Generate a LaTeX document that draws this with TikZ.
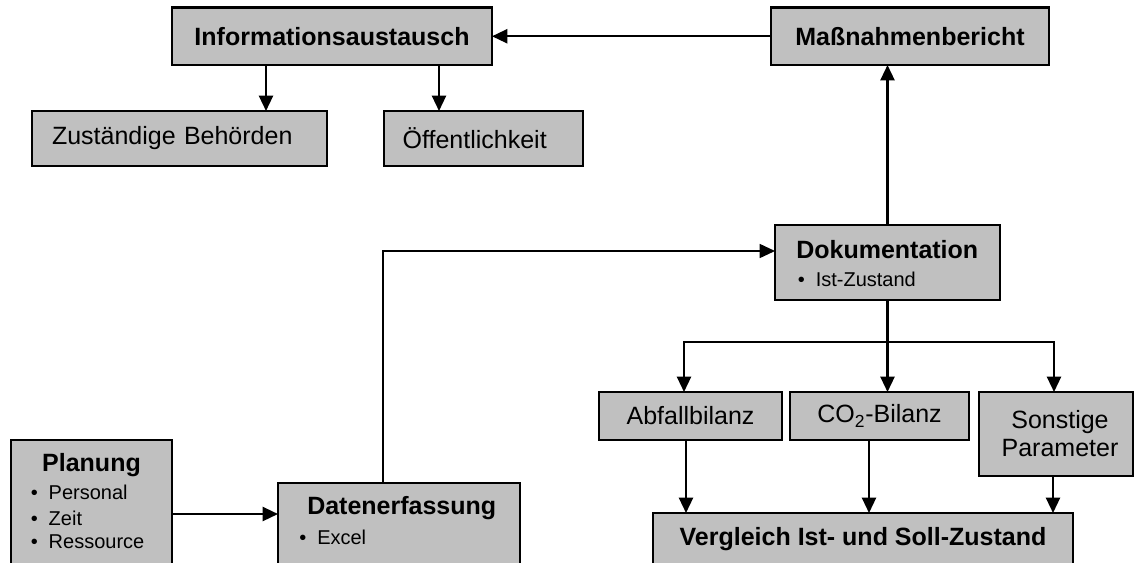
\documentclass[tikz,border=0pt]{standalone}
\usepackage{fontspec}
\setmainfont{Liberation Sans}
\usetikzlibrary{arrows.meta}
\definecolor{boxgray}{HTML}{C0C0C0}
\tikzset{
  box/.style={draw=black, fill=boxgray, line width=1.9pt, inner sep=0pt, outer sep=0pt},
  ttl/.style={font=\fontsize{18.75}{22}\selectfont\bfseries, inner sep=0pt},
  reg/.style={font=\fontsize{18.75}{21}\selectfont},
  bul/.style={font=\fontsize{15}{18}\selectfont, inner sep=0pt, anchor=west},
  arr/.style={line width=1.7pt, -{Triangle[length=11.5pt,width=10.5pt]}},
}
\newcommand{\bull}{\makebox[13.5pt][l]{\textbullet}}
\begin{document}
\begin{tikzpicture}[x=0.75pt,y=-0.75pt]
\useasboundingbox (0,0) rectangle (1134,562);

% boxes
\node[box, minimum width=240pt, minimum height=43.1pt, ttl] (info) at (332,36.25) {Informationsaustausch};
\node[box, minimum width=208.5pt, minimum height=43.1pt, ttl] (mass) at (910,36.25) {Maßnahmenbericht};
\node[box, minimum width=221.25pt, minimum height=41.25pt, reg, text width=221.25pt, align=left] (zust) at (179.5,138.5) {\hspace*{15pt}Zuständige Behörden};
\node[box, minimum width=149.25pt, minimum height=41.25pt, reg, text width=149.25pt, align=left] (oeff) at (483.5,138.5) {\hspace*{14pt}Öffentlichkeit};
\node[box, minimum width=168.75pt, minimum height=56.25pt] (doku) at (887.5,262.5) {};
\node[box, minimum width=137.25pt, minimum height=36pt, reg] (abf) at (690.5,416) {Abfallbilanz};
\node[box, minimum width=134.25pt, minimum height=36pt, reg] (co2) at (879.5,416) {CO\textsubscript{2}-Bilanz};
\node[box, minimum width=115.5pt, minimum height=63pt, reg, align=center] (son) at (1056,434) {\hspace*{6pt}Sonstige\\\hspace*{6pt}Parameter};
\node[box, minimum width=315pt, minimum height=42.75pt] (verg) at (863,541.5) {};
\node[box, minimum width=120.75pt, minimum height=101.25pt] (plan) at (91.5,507.5) {};
\node[box, minimum width=181.5pt, minimum height=69pt] (daten) at (399,529) {};

% texts inside boxes
\node[ttl] (vergT) at (863,539) {Vergleich Ist- und Soll-Zustand};
\node[ttl] (planT) at (91.5,465) {Planung};
\node[bul] (pl1) at (30.5,492) {\bull Personal};
\node[bul] (pl2) at (30.5,518) {\bull Zeit};
\node[bul] (pl3) at (30.5,542) {\bull Ressource};
\node[ttl, anchor=west] (datT) at (307,508) {Datenerfassung};
\node[bul] (dat1) at (299,537) {\bull Excel};
\node[ttl, anchor=west] (dokT) at (796,250) {Dokumentation};
\node[bul] (dok1) at (797.5,279) {\bull Ist-Zustand};

% helper coordinates
\coordinate (a1) at (266,0);
\coordinate (a2) at (439,0);
\coordinate (bl) at (684,342);
\coordinate (brr) at (1054,342);
\coordinate (v1) at (686,0);
\coordinate (v2) at (869,0);
\coordinate (v3) at (1053,0);
\coordinate (h1) at (0,514);
\coordinate (d1) at (383,0);
\coordinate (d2) at (0,251);

% connectors
\draw[arr] (mass.west) -- (info.east);
\draw[arr] (info.south -| a1) -- (zust.north -| a1);
\draw[arr] (info.south -| a2) -- (oeff.north -| a2);
\draw[arr] (doku.north) -- (doku.north |- mass.south);
\draw[arr] (doku.south) -- (co2.north -| doku.south);
\draw[arr] (doku.south |- bl) -- (bl) -- (abf.north -| bl);
\draw[arr] (doku.south |- brr) -- (brr) -- (son.north -| brr);
\draw[arr] (abf.south -| v1) -- (verg.north -| v1);
\draw[arr] (co2.south -| v2) -- (verg.north -| v2);
\draw[arr] (son.south -| v3) -- (verg.north -| v3);
\draw[arr] (plan.east |- h1) -- (daten.west |- h1);
\draw[arr, line width=1.2pt] (daten.north -| d1) |- (doku.west |- d2);
\end{tikzpicture}
\end{document}
